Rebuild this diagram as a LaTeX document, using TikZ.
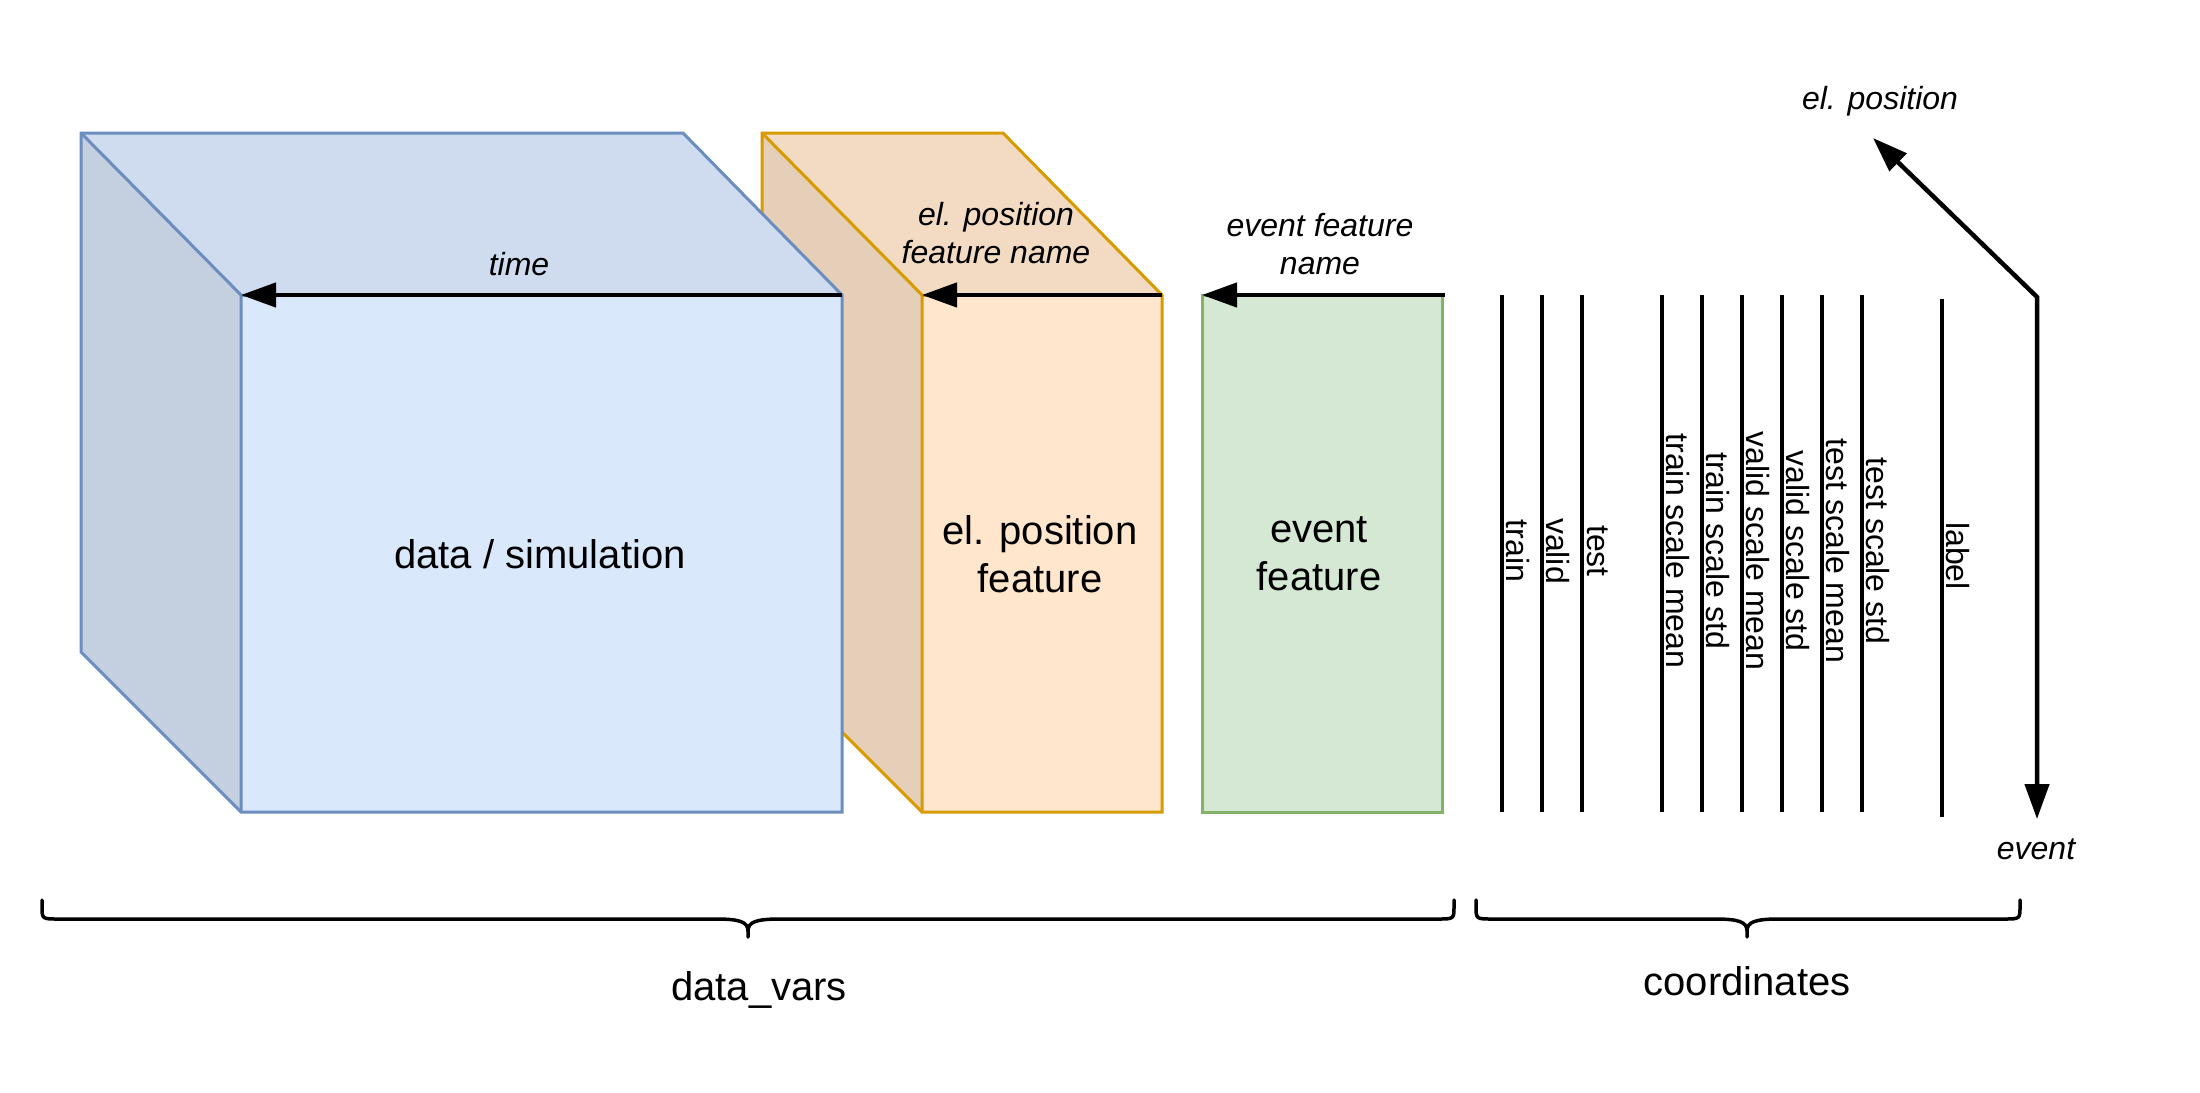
\documentclass[tikz,border=0pt]{standalone}
\usepackage{fontspec}
\setmainfont{Liberation Sans}
\usetikzlibrary{arrows.meta}
\definecolor{bluefill}{HTML}{DAE8FC}
\definecolor{bluetop}{HTML}{CFDCEF}
\definecolor{blueside}{HTML}{C4CFE0}
\definecolor{bluestroke}{HTML}{6C8EBF}
\definecolor{orfill}{HTML}{FFE6CC}
\definecolor{ortop}{HTML}{F2DBC2}
\definecolor{orside}{HTML}{E6CFB8}
\definecolor{orstroke}{HTML}{D79B00}
\definecolor{grfill}{HTML}{D5E8D4}
\definecolor{grstroke}{HTML}{82B366}
\tikzset{
  edgebox/.style={line width=3pt, line join=miter},
  tipshape/.style={},
  arr/.style={line width=4.5pt, -{Triangle[length=35pt,width=24pt]}},
  biarr/.style={line width=4.5pt, {Triangle[length=35pt,width=24pt]}-{Triangle[length=35pt,width=24pt]}},
  coordline/.style={line width=4pt},
  bigtxt/.style={font=\fontsize{40}{48}\selectfont, align=center, inner sep=0pt},
  smalltxt/.style={font=\fontsize{32}{38.4}\selectfont\itshape, align=center, inner sep=0pt},
  vtxt/.style={font=\fontsize{32}{38.4}\selectfont, rotate=-90, inner sep=0pt},
  bracestyle/.style={line width=3.5pt, line join=round, line cap=round}
}
\begin{document}
\begin{tikzpicture}[x=1pt,y=-1pt]
\useasboundingbox[fill=white] (0,0) rectangle (2200,1092);

% ---------- orange box (behind) ----------
\coordinate (obtl) at (762,133);
\coordinate (obtr) at (1003,133);
\coordinate (oftl) at (922,295);
\coordinate (oftr) at (1162,295);
\coordinate (ofbr) at (1162,812);
\coordinate (ofbl) at (922,812);
\coordinate (obbl) at (762,652);
\fill[orside] (obtl) -- (oftl) -- (ofbl) -- (obbl) -- cycle;
\fill[ortop] (obtl) -- (obtr) -- (oftr) -- (oftl) -- cycle;
\fill[orfill] (oftl) rectangle (ofbr);
\draw[edgebox, orstroke] (obtl) -- (obtr) -- (oftr) -- (ofbr) -- (ofbl) -- (obbl) -- cycle;
\draw[edgebox, orstroke] (obtl) -- (oftl) -- (ofbl);
\draw[edgebox, orstroke] (oftl) -- (oftr);

% ---------- blue cube ----------
\coordinate (bbtl) at (81,133);
\coordinate (bbtr) at (683,133);
\coordinate (bftl) at (241,295);
\coordinate (bftr) at (842,295);
\coordinate (bfbr) at (842,812);
\coordinate (bfbl) at (241,812);
\coordinate (bbbl) at (81,652);
\fill[blueside] (bbtl) -- (bftl) -- (bfbl) -- (bbbl) -- cycle;
\fill[bluetop] (bbtl) -- (bbtr) -- (bftr) -- (bftl) -- cycle;
\fill[bluefill] (bftl) rectangle (bfbr);
\draw[edgebox, bluestroke] (bbtl) -- (bbtr) -- (bftr) -- (bfbr) -- (bfbl) -- (bbbl) -- cycle;
\draw[edgebox, bluestroke] (bbtl) -- (bftl) -- (bfbl);
\draw[edgebox, bluestroke] (bftl) -- (bftr);

% ---------- green box ----------
\coordinate (gtl) at (1202,295);
\coordinate (gbr) at (1442,812);
\draw[edgebox, grstroke, fill=grfill] (gtl) rectangle (gbr);
\coordinate (gstart) at (1445,295);

% ---------- main labels ----------
\node[bigtxt] (ds) at (540,554) {data / simulation};
\node[bigtxt] (elpf) at (1040,554) {el. position\\feature};
\node[bigtxt] (evf) at (1319,554) {event\\feature};

% ---------- axis arrows on top ----------
\draw[arr] (bftr) -- (bftl);
\draw[arr] (oftr) -- (oftl);
\draw[arr] (gstart) -- (gtl);
\node[smalltxt] (timelbl) at (519,264) {time};
\node[smalltxt] (elpfn) at (996,233) {el. position\\feature name};
\node[smalltxt] (evfn) at (1320,244) {event feature\\name};

% ---------- coordinate lines ----------
\foreach \nm/\xx in {c1/1502,c2/1542,c3/1582,c4/1662,c5/1702,c6/1742,c7/1782,c8/1822,c9/1862}{
  \coordinate (\nm t) at (\xx,295);
  \coordinate (\nm b) at (\xx,812);
  \draw[coordline] (\nm t) -- (\nm b);
}
\coordinate (c10t) at (1942,299);
\coordinate (c10b) at (1942,817);
\draw[coordline] (c10t) -- (c10b);

\node[vtxt] (v1) at (1518,551) {train};
\node[vtxt] (v2) at (1558,551) {valid};
\node[vtxt] (v3) at (1598,551) {test};
\node[vtxt] (v4) at (1678,551) {train scale mean};
\node[vtxt] (v5) at (1718,551) {train scale std};
\node[vtxt] (v6) at (1758,551) {valid scale mean};
\node[vtxt] (v7) at (1798,551) {valid scale std};
\node[vtxt] (v8) at (1838,551) {test scale mean};
\node[vtxt] (v9) at (1878,551) {test scale std};
\node[vtxt] (v10) at (1958,556) {label};

% ---------- el. position / event axes ----------
\coordinate (axcorner) at (2037,297);
\coordinate (axup) at (1873,138);
\coordinate (axdown) at (2037,819);
\draw[biarr, line join=miter] (axup) -- (axcorner) -- (axdown);
\node[smalltxt] (elplbl) at (1880,101) {el. position};
\node[smalltxt] (evlbl) at (2036,849) {event};

% ---------- braces ----------
\draw[bracestyle] (42,900) -- (42,906) .. controls (42,919) .. (58,919) -- (716,919)
  .. controls (740,919) and (748,922) .. (748,931) -- (748,937)
  (748,931) .. controls (748,922) and (756,919) .. (780,919) -- (1438,919)
  .. controls (1454,919) .. (1454,906) -- (1454,900);
\node[bigtxt] (dv) at (759,990) {data\_vars};

\draw[bracestyle] (1476,900) -- (1476,906) .. controls (1476,919) .. (1492,919) -- (1715,919)
  .. controls (1739,919) and (1747,922) .. (1747,931) -- (1747,937)
  (1747,931) .. controls (1747,922) and (1755,919) .. (1779,919) -- (2004,919)
  .. controls (2020,919) .. (2020,906) -- (2020,900);
\node[bigtxt] (co) at (1747,981) {coordinates};
\end{tikzpicture}
\end{document}
